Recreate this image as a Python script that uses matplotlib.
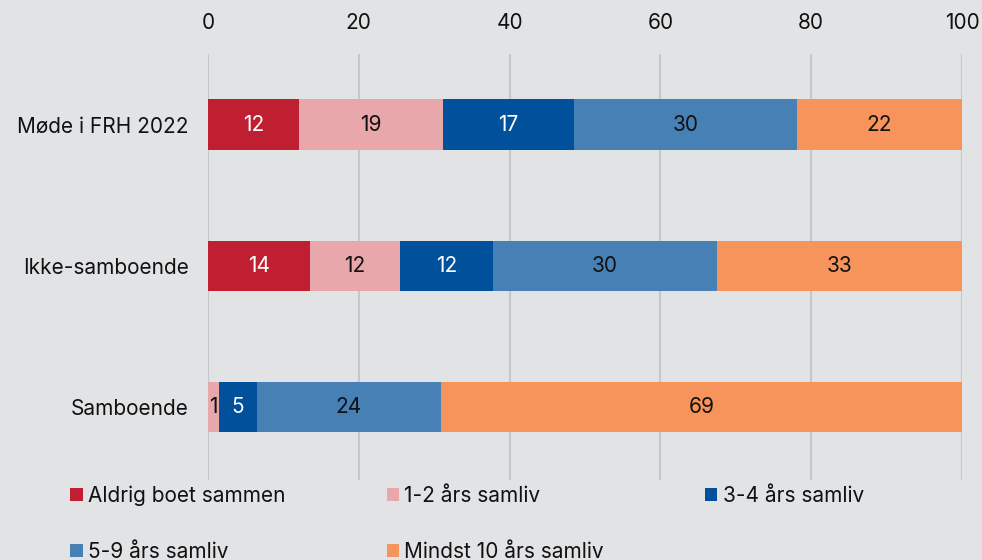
import matplotlib
matplotlib.use("Agg")
import matplotlib.pyplot as plt
from matplotlib.patches import Patch

plt.rcParams['font.family'] = ['Inter', 'DejaVu Sans']

categories = ["Møde i FRH 2022", "Ikke-samboende", "Samboende"]
series_names = ["Aldrig boet sammen", "1-2 års samliv", "3-4 års samliv",
                "5-9 års samliv", "Mindst 10 års samliv"]
aldrig = [12.1, 13.5, 0.0]
aar_1_2 = [19.1, 12.0, 1.4]
aar_3_4 = [17.3, 12.3, 5.1]
aar_5_9 = [29.6, 29.7, 24.4]
mindst_10 = [21.9, 32.5, 69.1]
labels = [["12", "14", ""], ["19", "12", "1"], ["17", "12", "5"],
          ["30", "30", "24"], ["22", "33", "69"]]
xticks = [0, 20, 40, 60, 80, 100]

colors = ["#c01f32", "#e8a7ab", "#00509b", "#4680b5", "#f6945b"]
text_colors = ["white", "#111111", "white", "#111111", "#111111"]
bg = "#e2e3e5"
fs = 15

fig = plt.figure(figsize=(9.82, 5.6), dpi=100, facecolor=bg)
ax = fig.add_axes([208/982, 1-480/560, (962-208)/982, (480-54)/560])
ax.set_facecolor(bg)

series = [aldrig, aar_1_2, aar_3_4, aar_5_9, mindst_10]
y = list(range(len(categories)))
left = [0.0]*len(categories)
handles = []
for s, vals in enumerate(series):
    bars = ax.barh(y, vals, left=left, height=0.355, color=colors[s], zorder=3)
    for i, b in enumerate(bars):
        if labels[s][i]:
            ax.text(left[i] + vals[i]/2, y[i], labels[s][i], ha='center', va='center',
                    color=text_colors[s], fontsize=fs, zorder=4)
    left = [l + v for l, v in zip(left, vals)]
    handles.append(Patch(facecolor=colors[s], label=series_names[s]))

ax.set_xlim(0, 100)
ax.set_ylim(2.52, -0.5)
ax.set_yticks(y)
ax.set_yticklabels(categories, fontsize=fs, color="#111111")
ax.set_xticks(xticks)
ax.xaxis.tick_top()
ax.tick_params(axis='x', length=0, pad=15, labelsize=fs, labelcolor="#111111")
ax.tick_params(axis='y', length=0, pad=14)
ax.grid(axis='x', color="#c6c7c9", linewidth=1.5, zorder=0)
for sp in ax.spines.values():
    sp.set_visible(False)

order = [0, 3, 1, 4, 2]
leg = fig.legend([handles[i] for i in order], [series_names[i] for i in order],
                 ncol=3, loc='upper left', bbox_to_anchor=(64/982, 1-479/560),
                 frameon=False, fontsize=fs, handlelength=0.6, handleheight=0.6,
                 handletextpad=0.25, columnspacing=4.85, labelspacing=1.72, borderpad=0.3,
                 borderaxespad=0)
for t in leg.get_texts():
    t.set_color("#111111")

fig.savefig("out.png", dpi=100, facecolor=bg)
